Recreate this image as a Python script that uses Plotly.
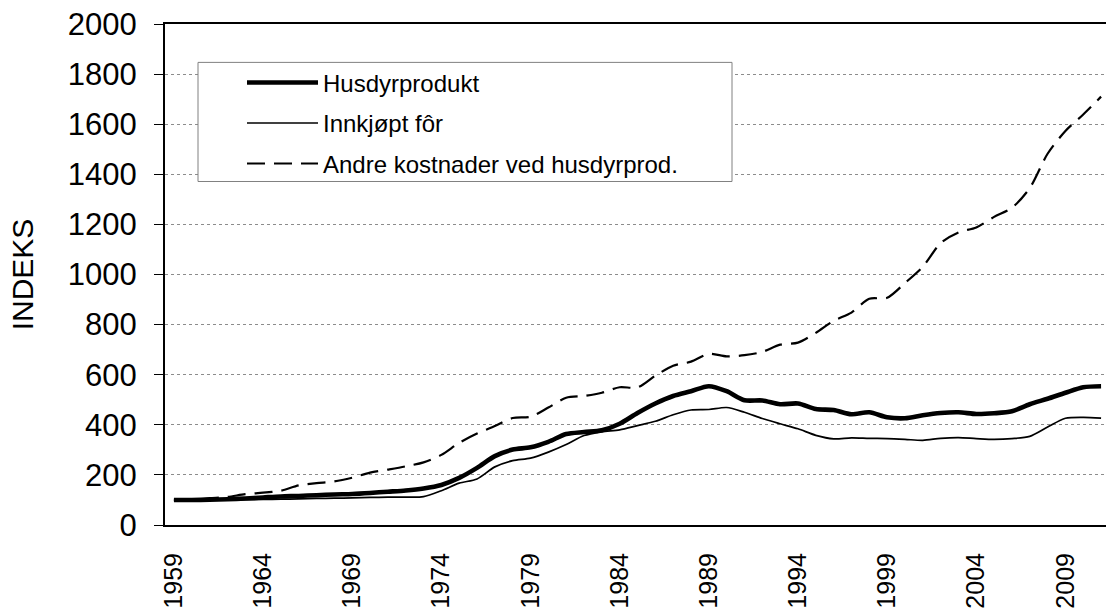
import plotly.graph_objects as go

years = list(range(1959, 2012))

husdyrprodukt = [100, 100, 101, 103, 106, 110, 114, 116, 119, 122,
                 124, 128, 133, 138, 146, 160, 188, 228, 275, 301,
                 310, 332, 363, 371, 378, 404, 447, 485, 515, 534,
                 554, 534, 498, 497, 482, 485, 463, 459, 442, 450,
                 430, 426, 438, 447, 450, 443, 446, 454, 482, 504,
                 528, 550, 554]

innkjopt_for = [98, 98, 99, 100, 101, 102, 103, 104, 106, 107,
                108, 110, 111, 111, 113, 137, 167, 184, 232, 257,
                267, 291, 321, 357, 372, 380, 397, 414, 440, 459,
                461, 469, 450, 425, 404, 384, 358, 344, 348, 346,
                345, 342, 338, 346, 349, 345, 342, 345, 354, 391,
                426, 430, 427]

andre_kostnader = [100, 101, 107, 112, 123, 129, 137, 158, 167, 174,
                   189, 209, 221, 234, 250, 280, 328, 365, 395, 427,
                   432, 469, 508, 515, 528, 550, 549, 596, 636, 652,
                   683, 673, 678, 691, 720, 728, 767, 815, 848, 903,
                   907, 966, 1031, 1125, 1168, 1188, 1230, 1266, 1345, 1482,
                   1573, 1639, 1710]

label_years = list(range(1959, 2012, 5))
boundaries = [y - 0.5 for y in range(1959, 2013)]

FONT = "Liberation Sans, Arial, sans-serif"
SMOOTH = 0.8

fig = go.Figure()
fig.add_trace(go.Scatter(
    x=years, y=andre_kostnader, name="Andre kostnader ved husdyrprod.",
    mode="lines", line=dict(color="black", width=2.2, dash="18px,9px",
                            shape="spline", smoothing=SMOOTH),
    legendrank=3, legendgroup="c"))
fig.add_trace(go.Scatter(
    x=years, y=innkjopt_for, name="Innkjøpt fôr",
    mode="lines", line=dict(color="black", width=1.7, shape="spline", smoothing=SMOOTH),
    legendrank=2, legendgroup="b"))
fig.add_trace(go.Scatter(
    x=years, y=husdyrprodukt, name="Husdyrprodukt",
    mode="lines", line=dict(color="black", width=4.6, shape="spline", smoothing=SMOOTH),
    legendrank=1, legendgroup="a"))

W, H = 1106, 609
L, R, T, B = 165, 0, 24, 76
pw, ph = W - L - R, H - T - B
xr = [1958.5, 1958.5 + pw / 17.83]


def px_x(p):
    return (p - L) / pw


def px_y(p):
    return (H - B - p) / ph


fig.update_layout(
    width=W, height=H, autosize=False,
    margin=dict(l=L, r=R, t=T, b=B, pad=0),
    paper_bgcolor="white", plot_bgcolor="white",
    font=dict(family=FONT, color="black"),
    showlegend=True,
    legend=dict(
        x=px_x(242), y=px_y(61), xanchor="left", yanchor="top",
        bgcolor="rgba(0,0,0,0)", borderwidth=0,
        font=dict(size=24, family=FONT, color="black"),
        itemwidth=71, tracegroupgap=6.3, traceorder="grouped",
    ),
    xaxis=dict(
        range=xr, tickmode="array", tickvals=label_years,
        ticktext=[str(y) for y in label_years],
        tickangle=-90, tickfont=dict(size=25, family=FONT, color="black"),
        ticks="outside", ticklen=8, tickcolor="rgba(0,0,0,0)",
        ticklabelstandoff=8,
        showline=True, linecolor="black", linewidth=2, mirror=True,
        showgrid=False, zeroline=False, fixedrange=True,
    ),
    xaxis2=dict(
        overlaying="x", anchor="y", side="bottom", matches="x",
        range=xr, tickmode="array", tickvals=boundaries,
        ticks="outside", ticklen=8, tickwidth=1, tickcolor="black",
        showticklabels=False, showline=False, showgrid=False, zeroline=False,
    ),
    yaxis=dict(
        range=[0, 2000], tickmode="linear", tick0=0, dtick=200,
        tickfont=dict(size=31, family=FONT, color="black"),
        ticks="outside", ticklen=9, tickwidth=1, tickcolor="black",
        ticklabelstandoff=11,
        showline=True, linecolor="black", linewidth=2,
        showgrid=True, gridcolor="#8c8c8c", gridwidth=1, griddash="dot",
        zeroline=False, fixedrange=True,
        title=dict(text="INDEKS", font=dict(size=30, family=FONT, color="black"),
                   standoff=25),
    ),
    shapes=[dict(
        type="rect", xref="paper", yref="paper",
        x0=px_x(198), x1=px_x(732), y0=px_y(184), y1=px_y(63),
        line=dict(color="#808080", width=1), fillcolor="white", layer="above",
    )],
)

fig.write_html(
    "out.html",
    config={"displayModeBar": False},
    post_script="document.body.style.margin='0px';document.body.style.overflow='hidden';",
)
